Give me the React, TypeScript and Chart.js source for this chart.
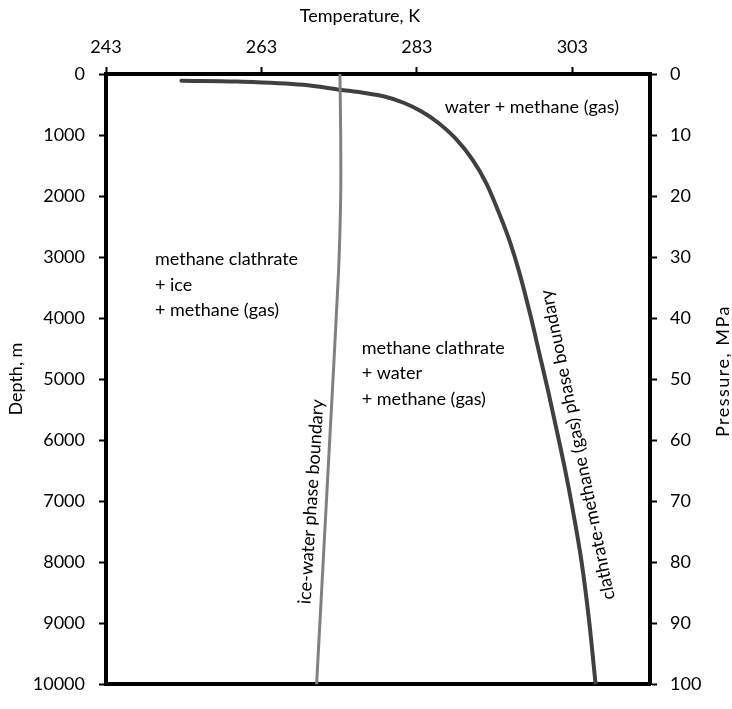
import { useEffect, useRef } from 'react';
import { Chart, registerables } from 'chart.js';

Chart.register(...registerables);

const FONT = "Lato, 'Open Sans', sans-serif";

// axis ticks
const tempTicks = [243, 263, 283, 303];
const depthTicks = [0, 1000, 2000, 3000, 4000, 5000, 6000, 7000, 8000, 9000, 10000];
const pressureTicks = [0, 10, 20, 30, 40, 50, 60, 70, 80, 90, 100];

// clathrate-methane (gas) phase boundary: temperature (K) vs depth (m)
const hydrateTemp = [252.7, 259.8, 268.4, 273.1, 276.5, 278.7, 281.3, 283.5, 285.7, 288.0, 290.2, 292.0, 293.6, 295.0, 296.2, 297.7, 298.8, 299.9, 301.1, 302.1, 303.0, 304.2, 305.2, 306.0];
const hydrateDepth = [110, 123, 177, 257, 315, 365, 471, 607, 794, 1059, 1411, 1807, 2287, 2760, 3259, 4000, 4600, 5200, 5900, 6500, 7100, 8000, 9000, 10000];

// ice-water phase boundary
const iceTemp = [273.1, 273.2, 273.2, 272.9, 271.7, 270.1];
const iceDepth = [0, 1000, 2000, 3300, 6200, 10000];

const regionLabels = [
  { lines: ['water + methane (gas)'], t: 286.6, d: 547 },
  { lines: ['methane clathrate', '+ ice', '+ methane (gas)'], t: 249.3, d: 3039 },
  { lines: ['methane clathrate', '+ water', '+ methane (gas)'], t: 275.9, d: 4486 },
];

const boundaryLabels = [
  { text: 'ice-water phase boundary', t: 269.4, d: 7010, angle: -86.3 },
  { text: 'clathrate-methane (gas) phase boundary', t: 303.7, d: 6077, angle: -101.5 },
];

const fixTicks = (values: number[]) => (scale: any) => {
  scale.ticks = values.map(v => ({ value: v }));
};

const annotate = {
  id: 'annotate',
  afterDraw(chart: any) {
    const { ctx, chartArea, scales: { x, y } } = chart;
    ctx.save();
    ctx.fillStyle = '#000';
    ctx.font = `18px ${FONT}`;
    ctx.textBaseline = 'middle';
    ctx.textAlign = 'left';
    regionLabels.forEach(r => {
      const px = x.getPixelForValue(r.t);
      const py = y.getPixelForValue(r.d);
      r.lines.forEach((line, i) => ctx.fillText(line, px, py + i * 25.5));
    });
    ctx.textAlign = 'center';
    boundaryLabels.forEach(b => {
      ctx.save();
      ctx.translate(x.getPixelForValue(b.t), y.getPixelForValue(b.d));
      ctx.rotate((b.angle * Math.PI) / 180);
      ctx.fillText(b.text, 0, 0);
      ctx.restore();
    });

    const midY = (chartArea.top + chartArea.bottom) / 2;
    ctx.fillText('Temperature, K', 360, 16);
    ctx.save();
    ctx.translate(16, midY);
    ctx.rotate(-Math.PI / 2);
    ctx.fillText('Depth, m', 0, 0);
    ctx.restore();
    ctx.save();
    ctx.translate(723, midY - 8);
    ctx.rotate(-Math.PI / 2);
    ctx.letterSpacing = '1.5px';
    ctx.fillText('Pressure, MPa', 0, 0);
    ctx.restore();
    ctx.restore();
  },
};

export default function App() {
  const canvasRef = useRef<HTMLCanvasElement | null>(null);
  const chartRef = useRef<Chart | null>(null);

  useEffect(() => {
    if (!canvasRef.current) return;
    chartRef.current?.destroy();

    const tickFont = { family: FONT, size: 18 };
    const tickGrid = { drawOnChartArea: false, drawTicks: true, tickLength: 7, tickWidth: 2, tickColor: '#000' };
    const border = { display: true, color: '#000', width: 4 };

    chartRef.current = new Chart(canvasRef.current, {
      type: 'scatter',
      data: {
        datasets: [
          {
            label: 'ice-water phase boundary',
            data: iceTemp.map((t, i) => ({ x: t, y: iceDepth[i] })),
            showLine: true,
            borderColor: '#808080',
            borderWidth: 3,
            pointRadius: 0,
            tension: 0.25,
            borderCapStyle: 'round',
          },
          {
            label: 'clathrate-methane (gas) phase boundary',
            data: hydrateTemp.map((t, i) => ({ x: t, y: hydrateDepth[i] })),
            showLine: true,
            borderColor: '#404040',
            borderWidth: 4,
            pointRadius: 0,
            cubicInterpolationMode: 'monotone',
            borderCapStyle: 'round',
            borderJoinStyle: 'round',
          },
        ],
      },
      options: {
        animation: false,
        responsive: true,
        maintainAspectRatio: false,
        layout: { padding: 0 },
        plugins: { legend: { display: false }, tooltip: { enabled: false } },
        scales: {
          x: {
            type: 'linear',
            position: 'top',
            min: 243,
            max: 313,
            afterBuildTicks: fixTicks(tempTicks),
            afterFit: (s: any) => { s.height = 74; },
            ticks: { font: tickFont, color: '#000', padding: 9, callback: (v: any) => String(v) },
            grid: tickGrid,
            border,
          },
          x2: {
            type: 'linear',
            position: 'bottom',
            min: 243,
            max: 313,
            afterFit: (s: any) => { s.height = 13; },
            ticks: { display: false },
            grid: { display: false },
            border,
          },
          y: {
            type: 'linear',
            position: 'left',
            reverse: true,
            min: 0,
            max: 10000,
            afterBuildTicks: fixTicks(depthTicks),
            afterFit: (s: any) => { s.width = 106; },
            ticks: { font: tickFont, color: '#000', padding: 14, callback: (v: any) => String(v) },
            grid: tickGrid,
            border,
          },
          y2: {
            type: 'linear',
            position: 'right',
            reverse: true,
            min: 0,
            max: 100,
            afterBuildTicks: fixTicks(pressureTicks),
            afterFit: (s: any) => { s.width = 82; },
            ticks: { font: tickFont, color: '#000', padding: 13, callback: (v: any) => String(v) },
            grid: tickGrid,
            border,
          },
        },
      },
      plugins: [annotate],
    } as any);

    return () => chartRef.current?.destroy();
  }, []);

  return (
    <div style={{ position: 'absolute', left: 0, top: 0, width: 732, height: 709, background: '#fff' }}>
      <canvas ref={canvasRef} />
    </div>
  );
}
